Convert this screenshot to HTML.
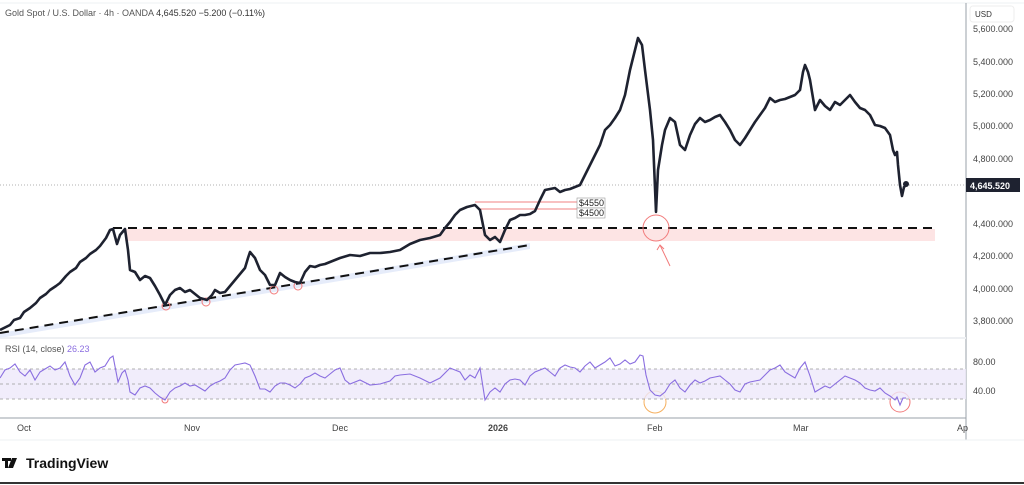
<!DOCTYPE html>
<html><head><style>
body{margin:0;width:1024px;height:485px;background:#fff;font-family:"Liberation Sans",sans-serif;overflow:hidden}
</style></head><body>
<svg width="1024" height="485" style="position:absolute;left:0;top:0" font-family="Liberation Sans, sans-serif">
<line x1="0" y1="3" x2="1024" y2="3" stroke="#eef0f3"/>
<line x1="966" y1="3" x2="966" y2="440" stroke="#9aa0a8"/>
<line x1="0" y1="338" x2="966" y2="338" stroke="#eef0f3" stroke-width="2"/>
<line x1="0" y1="418" x2="966" y2="418" stroke="#9aa0a8"/>
<line x1="0" y1="440" x2="1024" y2="440" stroke="#eef0f3"/>
<line x1="0" y1="483" x2="1024" y2="483" stroke="#333" stroke-width="2"/>
<text x="5" y="16" font-size="9" fill="#555">Gold Spot / U.S. Dollar · 4h · OANDA <tspan fill="#333">4,645.520  −5.200 (−0.11%)</tspan></text>
<rect x="970" y="6" width="44" height="16" rx="3" fill="#fff" stroke="#eee"/>
<text x="975" y="17" font-size="8" fill="#333">USD</text>
<g font-size="9" fill="#444">
<text x="973" y="32">5,600.000</text><text x="973" y="65">5,400.000</text><text x="973" y="97">5,200.000</text>
<text x="973" y="129">5,000.000</text><text x="973" y="162">4,800.000</text>
<text x="973" y="227">4,400.000</text><text x="973" y="259">4,200.000</text><text x="973" y="292">4,000.000</text><text x="973" y="324">3,800.000</text>
<text x="973" y="365">80.00</text><text x="973" y="394">40.00</text>
</g>
<line x1="0" y1="185" x2="966" y2="185" stroke="#999" stroke-dasharray="1,2" stroke-width="0.7"/>
<rect x="966" y="178" width="54" height="14" fill="#1e2230"/>
<text x="970" y="189" font-size="9" font-weight="bold" fill="#fff">4,645.520</text>
<!-- zones -->
<rect x="125" y="229" width="810" height="12" fill="#fde4e4"/>
<polygon points="0,333 530,243 530,249 0,338" fill="#e6ecfa"/>
<line x1="0" y1="333" x2="530" y2="245" stroke="#111" stroke-width="2" stroke-dasharray="9,6"/>
<line x1="113" y1="228" x2="935" y2="228" stroke="#111" stroke-width="2" stroke-dasharray="9,6"/>
<line x1="475" y1="202" x2="577" y2="202" stroke="#f08080"/>
<line x1="478" y1="209" x2="577" y2="209" stroke="#f08080"/>
<rect x="577" y="198" width="28" height="10" fill="#fff" stroke="#999" stroke-width="0.6"/>
<rect x="577" y="208" width="28" height="10" fill="#fff" stroke="#999" stroke-width="0.6"/>
<text x="579" y="206" font-size="9" fill="#222">$4550</text>
<text x="579" y="216" font-size="9" fill="#222">$4500</text>
<g fill="none" stroke="#f27a7a">
<circle cx="166" cy="306" r="4"/><circle cx="206" cy="302" r="4"/><circle cx="274" cy="290" r="4"/><circle cx="298" cy="286" r="4"/>
<circle cx="656" cy="228" r="13"/>
<line x1="660" y1="245" x2="670" y2="266"/><polyline points="657,250 660,245 664,249"/>
<circle cx="165" cy="400" r="3"/><circle cx="900" cy="402" r="10"/>
</g>
<circle cx="655" cy="402" r="11" fill="none" stroke="#f5b060"/>
<polyline fill="none" stroke="#1e2230" stroke-width="2.6" stroke-linejoin="round" points="0,330 10,325 14,320 20,318 24,312 30,308 36,303 40,298 46,294 50,290 56,286 60,283 66,276 70,272 76,268 80,262 86,258 90,254 96,250 100,246 106,238 110,230 113,229 117,244 120,235 125,229 128,250 130,270 135,272 140,280 145,276 150,278 155,286 160,295 165,305 170,295 175,290 180,288 185,292 190,290 195,294 200,298 207,300 212,295 215,290 220,293 225,292 230,286 235,280 240,274 245,268 248,258 250,252 255,258 260,270 265,275 270,285 275,285 280,273 285,277 290,280 295,282 300,283 305,272 310,266 315,267 320,265 325,264 330,262 340,258 350,255 360,256 370,253 380,253 390,252 400,250 410,244 420,240 430,238 440,235 445,228 450,222 455,215 460,210 467,207 475,205 480,210 485,235 490,240 495,237 500,242 505,230 510,220 515,218 520,215 525,215 530,214 535,211 540,200 545,190 550,189 555,188 560,192 565,190 570,189 575,187 580,185 585,175 590,165 595,155 600,145 605,130 610,125 615,118 620,110 625,95 630,70 635,50 638,38 642,45 645,70 650,110 653,140 656,212 658,170 662,145 665,130 670,118 675,122 680,145 685,150 690,135 695,124 700,118 705,122 710,120 715,117 720,115 725,122 730,130 735,140 740,145 745,138 750,130 755,122 760,115 765,108 770,98 775,102 780,100 785,99 790,97 795,95 800,90 803,72 805,65 808,72 810,80 815,110 820,100 825,106 830,110 835,102 840,105 845,100 850,95 855,102 860,108 865,110 870,115 875,125 880,126 885,128 890,135 893,150 895,155 897,152 898,165 900,185 902,196 904,187 908,184"/>
<circle cx="906" cy="184" r="3" fill="#1e2230"/>
<!-- RSI -->
<text x="5" y="352" font-size="9" fill="#555">RSI (14, close) <tspan fill="#8b6ee0">26.23</tspan></text>
<rect x="0" y="369" width="966" height="30" fill="#ede8fa" opacity="0.8"/>
<g stroke="#999" stroke-dasharray="3,3" stroke-width="0.7">
<line x1="0" y1="369" x2="966" y2="369"/><line x1="0" y1="384" x2="966" y2="384"/><line x1="0" y1="399" x2="966" y2="399"/></g>
<polyline fill="none" stroke="#8a6ee0" stroke-width="1.1" points="0,378 5,370 10,368 15,364 20,372 25,376 30,370 35,380 40,372 45,369 50,366 55,370 60,368 65,362 70,376 75,385 80,378 85,365 90,362 95,372 100,368 105,366 110,358 113,356 118,382 122,373 125,370 128,380 130,392 135,395 140,388 145,386 150,388 155,393 160,397 165,400 170,392 175,388 180,386 185,383 190,386 195,385 200,388 205,391 210,386 215,383 220,381 225,378 230,370 235,365 240,364 245,363 250,365 255,376 260,389 265,389 270,392 275,386 280,383 285,383 290,385 295,388 300,384 305,378 310,376 315,373 320,376 325,378 330,374 335,370 340,368 345,380 350,384 360,380 370,385 380,384 390,381 395,376 400,375 410,374 420,378 430,383 440,378 450,368 455,370 460,372 465,380 470,375 475,378 480,368 485,400 490,392 495,388 500,392 505,384 510,380 515,379 520,380 525,385 530,376 535,372 540,370 545,368 550,372 555,376 560,368 565,365 570,367 575,368 580,372 585,366 590,362 595,368 600,365 605,362 610,358 615,366 620,364 625,360 630,364 635,362 640,355 643,356 646,375 650,390 655,395 660,396 665,392 670,384 675,380 680,388 685,392 690,385 695,380 700,383 705,381 710,378 715,377 720,376 725,380 730,384 735,390 740,392 745,384 750,382 755,381 760,380 765,375 770,370 775,368 780,365 785,372 790,375 795,378 800,368 805,362 810,376 815,392 820,389 825,386 830,388 835,384 840,380 845,376 850,378 855,380 860,383 865,388 870,390 875,391 880,388 885,393 890,396 895,400 897,397 900,405 903,398 906,398"/>
<g font-size="9" fill="#444">
<text x="17" y="431">Oct</text><text x="184" y="431">Nov</text><text x="332" y="431">Dec</text>
<text x="488" y="431" font-weight="bold">2026</text><text x="647" y="431">Feb</text><text x="793" y="431">Mar</text><text x="957" y="431">Ap</text>
</g>
<g fill="#111"><rect x="2" y="458" width="9" height="3"/><rect x="5" y="458" width="3" height="10"/><polygon points="12,458 17,458 13,468 8,468"/><circle cx="13" cy="460" r="1.5"/></g>
<text x="26" y="468" font-size="14" font-weight="bold" fill="#111">TradingView</text>
</svg>
</body></html>
